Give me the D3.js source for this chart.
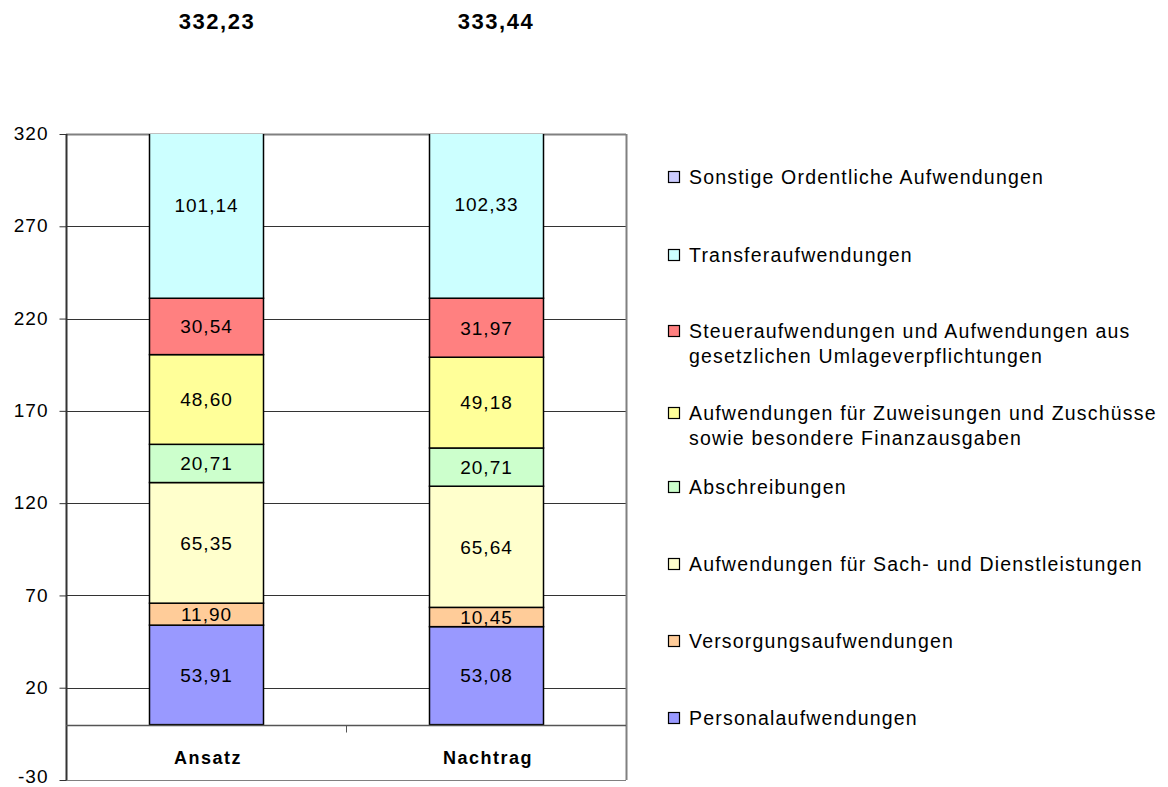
<!DOCTYPE html>
<meta charset="utf-8">
<style>
body { margin:0; background:#fff; }
svg text { font-family: "Liberation Sans", Arial, sans-serif; }
</style>
<body>
<div id="chart"></div>
<script src="https://d3js.org/d3.v7.min.js"></script>
<script>
// Kategorien und Werte (Mio. EUR)
var categories = ["Ansatz", "Nachtrag"];
var totals = ["332,23", "333,44"];
var seriesNames = [
  "Personalaufwendungen",
  "Versorgungsaufwendungen",
  "Aufwendungen für Sach- und Dienstleistungen",
  "Abschreibungen",
  "Aufwendungen für Zuweisungen und Zuschüsse sowie besondere Finanzausgaben",
  "Steueraufwendungen und Aufwendungen aus gesetzlichen Umlageverpflichtungen",
  "Transferaufwendungen",
  "Sonstige Ordentliche Aufwendungen"
];
var legendLines = [
  ["Personalaufwendungen"],
  ["Versorgungsaufwendungen"],
  ["Aufwendungen für Sach- und Dienstleistungen"],
  ["Abschreibungen"],
  ["Aufwendungen für Zuweisungen und Zuschüsse", "sowie besondere Finanzausgaben"],
  ["Steueraufwendungen und Aufwendungen aus", "gesetzlichen Umlageverpflichtungen"],
  ["Transferaufwendungen"],
  ["Sonstige Ordentliche Aufwendungen"]
];
var ansatz   = [53.91, 11.90, 65.35, 20.71, 48.60, 30.54, 101.14, 0.08];
var nachtrag = [53.08, 10.45, 65.64, 20.71, 49.18, 31.97, 102.33, 0.08];
var colors = ["#9999FF", "#FFCC99", "#FFFFCC", "#CCFFCC", "#FFFF99", "#FF8080", "#CCFFFF", "#CCCCFF"];
var yTicks = [-30, 20, 70, 120, 170, 220, 270, 320];

var width = 1168, height = 787;
var pLeft = 66, pRight = 626, pTop = 134, pBottom = 780;

var svg = d3.select("#chart").append("svg").attr("width", width).attr("height", height);

var x = d3.scaleBand().domain(categories).range([pLeft, pRight]).paddingInner(0).paddingOuter(0);
var y = d3.scaleLinear().domain([-30, 320]).range([pBottom, pTop]);
var barW = 114;

// Gitterlinien
svg.append("g").selectAll("line").data(yTicks).enter().append("line")
  .attr("x1", pLeft).attr("x2", pRight)
  .attr("y1", function(d) { return Math.round(y(d)) + 0.5; })
  .attr("y2", function(d) { return Math.round(y(d)) + 0.5; })
  .attr("stroke", function(d) { return (d == 320 || d == -30) ? "#808080" : "#333"; })
  .attr("stroke-width", function(d) { return d == 320 ? 2 : 1; });

// Rahmen rechts
svg.append("line").attr("x1", pRight + 0.5).attr("x2", pRight + 0.5).attr("y1", pTop).attr("y2", pBottom)
  .attr("stroke", "#808080").attr("stroke-width", 2);

// Balken
svg.append("clipPath").attr("id", "plotclip").append("rect")
  .attr("x", pLeft).attr("y", pTop).attr("width", pRight - pLeft).attr("height", pBottom - pTop);

var data = [ansatz, nachtrag];
var barG = svg.append("g").attr("clip-path", "url(#plotclip)");
data.forEach(function(vals, ci) {
  var cum = 0;
  var segs = vals.map(function(v, i) { var s = {v: v, y0: cum, y1: cum + v, i: i}; cum += v; return s; });
  var cx = x(categories[ci]) + x.bandwidth() / 2;
  var g = barG.append("g");
  g.selectAll("rect").data(segs).enter().append("rect")
    .attr("x", Math.round(cx - barW / 2) + 0.5)
    .attr("width", barW)
    .attr("y", function(d) { return y(d.y1); })
    .attr("height", function(d) { return y(d.y0) - y(d.y1); })
    .attr("fill", function(d) { return colors[d.i]; })
    .attr("stroke", "#000").attr("stroke-width", 1.5);
  g.selectAll("text").data(segs.filter(function(d) { return d.v > 1; })).enter().append("text")
    .attr("x", cx + 0.5)
    .attr("y", function(d) { return y((d.y0 + d.y1) / 2); })
    .attr("dy", "0.36em")
    .attr("text-anchor", "middle")
    .attr("font-size", "19px").attr("letter-spacing", "1px")
    .text(function(d) { return d3.format(".2f")(d.v).replace(".", ","); });
});

// y-Achse
var yAxis = svg.append("g").attr("transform", "translate(" + (pLeft + 0.5) + ",0)")
  .call(d3.axisLeft(y).tickValues(yTicks).tickSize(7).tickPadding(11).tickFormat(function(d) { return String(d); }));
yAxis.select(".domain").attr("stroke", "#333").attr("stroke-width", 2).attr("d", "M0," + pTop + "V" + pBottom);
yAxis.selectAll(".tick line").attr("stroke", "#333");
yAxis.selectAll("text").attr("font-size", "19px").attr("letter-spacing", "1px").attr("fill", "#000")
  .attr("dy", function(d) { return d == -30 ? "0.12em" : "0.3em"; })
  .attr("font-family", "Liberation Sans, Arial, sans-serif");

// x-Achse bei 0
var y0 = Math.round(y(0)) + 0.5;
svg.append("line").attr("x1", pLeft).attr("x2", pRight).attr("y1", y0).attr("y2", y0)
  .attr("stroke", "#555").attr("stroke-width", 1.5);
svg.append("line").attr("x1", x("Nachtrag") + 0.5).attr("x2", x("Nachtrag") + 0.5)
  .attr("y1", y0).attr("y2", y0 + 7).attr("stroke", "#555");
svg.append("g").selectAll("text").data(categories).enter().append("text")
  .attr("x", function(d) { return x(d) + x.bandwidth() / 2 + 2; })
  .attr("y", 764)
  .attr("text-anchor", "middle")
  .attr("font-size", "18px").attr("font-weight", "bold").attr("letter-spacing", "1.5px")
  .text(function(d) { return d; });

// Summen oben
svg.append("g").selectAll("text").data(categories).enter().append("text")
  .attr("x", function(d, i) { return x(d) + x.bandwidth() / 2 + 11 - i * 1; })
  .attr("y", 29)
  .attr("text-anchor", "middle")
  .attr("font-size", "22px").attr("font-weight", "bold").attr("letter-spacing", "1.5px")
  .text(function(d, i) { return totals[i]; });

// Legende (umgekehrte Reihenfolge)
var legendY = [177, 255, 331, 413, 487, 564, 641, 718].reverse();
var leg = svg.append("g");
seriesNames.forEach(function(name, i) {
  var ly = legendY[i];
  leg.append("rect").attr("x", 668.5).attr("y", ly - 5.5).attr("width", 11).attr("height", 11)
    .attr("fill", colors[i]).attr("stroke", "#000").attr("stroke-width", 1.2);
  var t = leg.append("text").attr("x", 689).attr("y", ly).attr("font-size", "19.5px").attr("letter-spacing", "1.2px");
  legendLines[i].forEach(function(line, j) {
    t.append("tspan").attr("x", 689).attr("dy", j == 0 ? "0.36em" : "1.3em").text(line);
  });
});
</script>
</body>
